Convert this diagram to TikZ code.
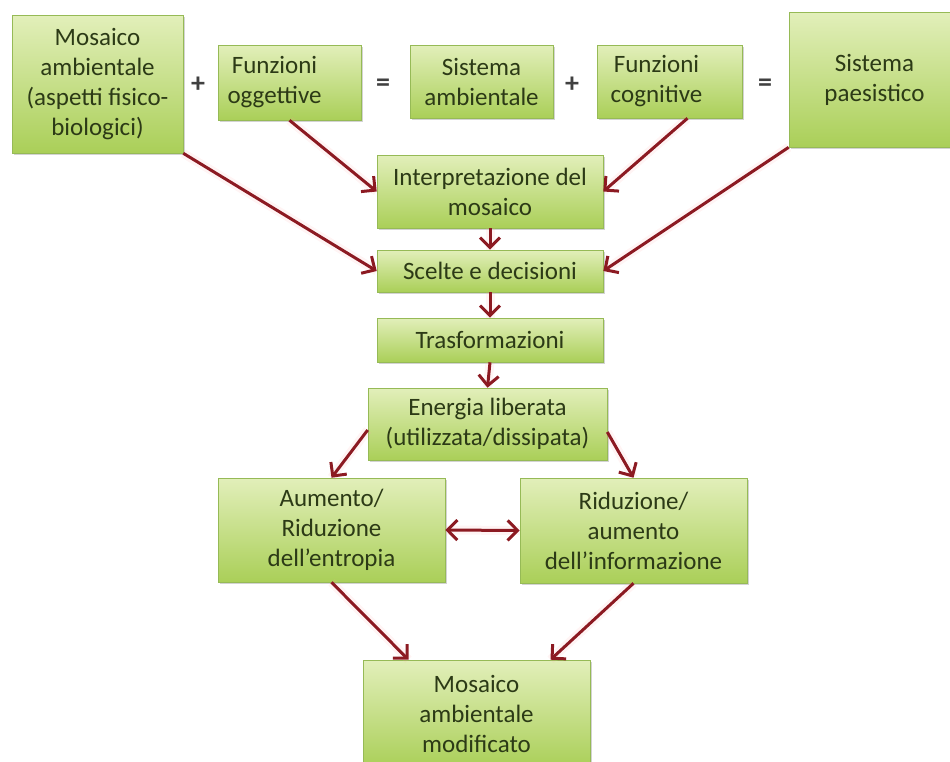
\documentclass[tikz,border=0pt]{standalone}
\usepackage{fontspec}
\setmainfont{Carlito}
\usetikzlibrary{arrows.meta,shadows}
\definecolor{boxtop}{RGB}{226,239,186}
\definecolor{boxbot}{RGB}{170,207,88}
\definecolor{boxline}{RGB}{150,186,86}
\definecolor{boxtext}{RGB}{44,58,22}
\definecolor{arrowred}{RGB}{140,26,34}
\tikzset{
  box/.style={draw=boxline, line width=0.3pt, top color=boxtop, bottom color=boxbot,
    text=boxtext, align=center, inner sep=0pt, font=\fontsize{12.5}{15}\selectfont,
    drop shadow={opacity=0.35, shadow xshift=0.8pt, shadow yshift=-1.2pt}},
  op/.style={font=\fontsize{14}{14}\selectfont\bfseries, text=black!75},
  link/.style={draw=arrowred, line width=1.5pt, -{Straight Barb[length=5pt,width=10pt]},
    preaction={draw=red!35, line width=4.5pt, opacity=0.12, -}}
}
\begin{document}
\begin{tikzpicture}[x=0.5pt, y=-0.5pt]
    \useasboundingbox (0,0) rectangle (950,762);
    \clip (0,0) rectangle (950,762);

    % top row: the two sums
    \node[box, minimum width=85.5pt, minimum height=69pt] (mosaico) at (97.5,84) {Mosaico\\ambientale\\(aspetti fisico-\\biologici)};
    \node[op] (plus1) at (198,85) {+};
    \node[box, minimum width=71.5pt, minimum height=37.5pt] (funzogg) at (289.5,82.5) {Funzioni\hspace*{15pt}\\oggettive\hspace*{15pt}};
    \node[op] (eq1) at (383,85) {=};
    \node[box, minimum width=71.5pt, minimum height=36.5pt] (sistamb) at (481.5,81.5) {Sistema\\ambientale};
    \node[op] (plus2) at (572,85) {+};
    \node[box, minimum width=72.5pt, minimum height=36.5pt] (funzcog) at (669.5,81.5) {Funzioni\hspace*{13pt}\\cognitive\hspace*{13pt}};
    \node[op] (eq2) at (765,85) {=};
    \node[box, minimum width=85.5pt, minimum height=67.5pt] (paesistico) at (874.5,79.5) {Sistema\\paesistico};

    % central column
    \node[box, minimum width=113pt, minimum height=36.5pt] (interp) at (490,191.5) {Interpretazione del\\mosaico};
    \node[box, minimum width=113pt, minimum height=21pt] (scelte) at (490,271) {Scelte e decisioni};
    \node[box, minimum width=113pt, minimum height=22pt] (trasf) at (490,340) {Trasformazioni};
    \node[box, minimum width=119.5pt, minimum height=36pt] (energia) at (487.5,424) {Energia liberata\\(utilizzata/dissipata)};

    % the two effects and the result
    \node[box, minimum width=113.5pt, minimum height=52pt] (aumento) at (331.5,530) {Aumento/\\Riduzione\\dell’entropia};
    \node[box, minimum width=113.5pt, minimum height=52.5pt] (riduz) at (633.5,530.5) {Riduzione/\\aumento\\dell’informazione};
    \node[box, minimum width=113.5pt, minimum height=54pt] (modif) at (476.5,714) {Mosaico\\ambientale\\modificato};

    % arrows
    \draw[link] (mosaico.south east) -- (scelte.west);
    \draw[link] (funzogg.south) -- (interp.west);
    \draw[link] ([xshift=9pt]funzcog.south) -- (interp.east);
    \draw[link] (paesistico.south west) -- (scelte.east);
    \foreach \a/\b in {interp.south/scelte.north, scelte.south/trasf.north, trasf.south/energia.north}
        \draw[link] (\a) -- (\b);
    \draw[link] ([yshift=-3pt]energia.west) -- (aumento.north);
    \draw[link] ([yshift=-4pt]energia.east) -- (riduz.north);
    \draw[link, {Straight Barb[length=5pt,width=10pt]}-{Straight Barb[length=5pt,width=10pt]}] (aumento.east) -- (riduz.west);
    \draw[link] (aumento.south) -- ([xshift=-34pt]modif.north);
    \draw[link] (riduz.south) -- ([xshift=37pt]modif.north);
\end{tikzpicture}
\end{document}
